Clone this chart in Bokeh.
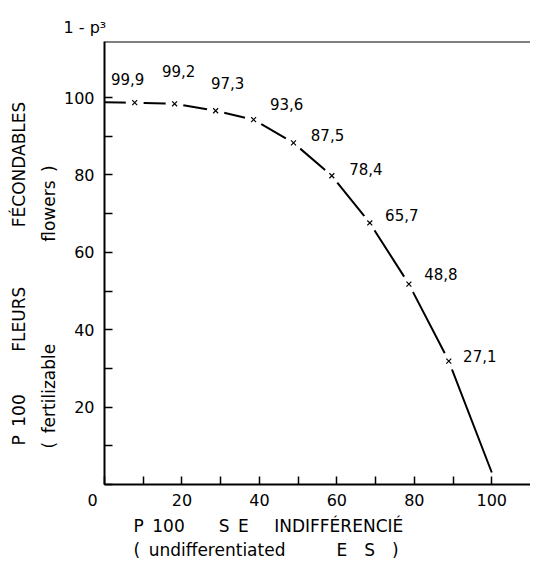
import math
from bokeh.plotting import figure
from bokeh.models import ColumnDataSource, Range1d, FixedTicker, Span, Title
from bokeh.embed import file_html
from bokeh.resources import INLINE
from bokeh.core.properties import value

# ---------------- data ----------------
point_x = [7.8, 18.1, 28.7, 38.5, 48.8, 58.7, 68.5, 78.6, 88.9]
point_y = [98.7, 98.4, 96.6, 94.3, 88.3, 79.8, 67.6, 51.8, 31.9]
point_labels = ["99,9", "99,2", "97,3", "93,6", "87,5", "78,4", "65,7", "48,8", "27,1"]

curve_x = [0.0] + point_x + [100.0]
curve_y = [98.8] + point_y + [3.1]

x_ticks = [0, 20, 40, 60, 80, 100]
x_minor = [10, 30, 50, 70, 90]
y_ticks = [0, 20, 40, 60, 80, 100]
y_minor = [10, 30, 50, 70, 90]

EM, EN = "\u2003", "\u2002"
x_title_1 = "P" + EN + "100" + EM + EM + "S" + EN + "E" + EM + EN + "INDIFFÉRENCIÉ"
x_title_2 = "(" + EN + "undifferentiated" + EM + EM + EM + "E" + EM + "S" + EM + ")"
y_title_1 = "P" + EN + "100" + EM + EM + EN + "FLEURS" + EM + EM + EM + EN + "FÉCONDABLES"
y_title_2 = "(" + EN + "fertilizable" + EM * 6 + "flowers" + EN + ")"
top_title = "1 - p³"

# ---------------- layout ----------------
X_MAX = 110.0
Y_MAX = 114.5
FONT = "DejaVu Sans"
label_dx = [-7, 4, 12, 33, 34, 34, 32, 32, 31]
label_dy = [-24, -33, -28, -16, -8, -7, -8, -10, -5]

W, H = 530, 560
FL, FT, FB = 102, 41, 76

p = figure(width=W, height=H, x_range=Range1d(0, X_MAX), y_range=Range1d(0, Y_MAX),
           output_backend="svg", toolbar_location=None,
           min_border_left=FL, min_border_right=0, min_border_top=FT, min_border_bottom=FB)
p.outline_line_color = None
p.grid.visible = False
p.background_fill_color = "white"
p.border_fill_color = "white"

p.xaxis.ticker = FixedTicker(ticks=x_ticks, minor_ticks=x_minor)
p.yaxis.ticker = FixedTicker(ticks=y_ticks, minor_ticks=y_minor)
p.xaxis.major_label_overrides = {0: "0" + EM + EN}
p.yaxis.major_label_overrides = {0: ""}
for ax in (p.xaxis, p.yaxis):
    ax.axis_line_width = 2
    ax.axis_line_color = "black"
    ax.major_tick_in = 8
    ax.major_tick_out = 0
    ax.minor_tick_in = 8
    ax.minor_tick_out = 0
    ax.major_tick_line_width = 1.5
    ax.minor_tick_line_width = 1.5
    ax.major_tick_line_color = "black"
    ax.minor_tick_line_color = "black"
    ax.major_label_text_font = FONT
    ax.major_label_text_font_size = "16px"
    ax.major_label_text_color = "black"
p.xaxis.major_label_standoff = 6
p.yaxis.major_label_standoff = 10

# top frame line
p.add_layout(Span(location=Y_MAX, dimension="width", line_color="black", line_width=2))

# curve with gaps around the markers
p.line(curve_x, curve_y, line_color="black", line_width=2)
src = ColumnDataSource(dict(x=point_x, y=point_y, t=point_labels, dx=label_dx, dy=label_dy))
p.scatter("x", "y", source=src, size=18, fill_color="white", line_color=None)
p.scatter("x", "y", source=src, marker="x", size=7, line_color="black", line_width=1.2)
p.text("x", "y", text="t", source=src, x_offset="dx", y_offset="dy",
       text_font=value(FONT), text_font_size="15px", text_color="black",
       text_align="center", text_baseline="middle")


def title(text, side, align="left", offset=0, standoff=0, size="17px"):
    p.add_layout(Title(text=text, align=align, offset=offset, standoff=standoff,
                       text_font=FONT, text_font_size=size, text_font_style="normal",
                       text_color="black"), side)


title(top_title, "above", offset=-41, standoff=10, size="16px")
title(y_title_2, "left", align="left", offset=36, standoff=4)
title(y_title_1, "left", align="left", offset=39, standoff=12)
title(x_title_1, "below", offset=29, standoff=2)
title(x_title_2, "below", offset=29, standoff=2)

open("out.html", "w").write(file_html(p, INLINE))
